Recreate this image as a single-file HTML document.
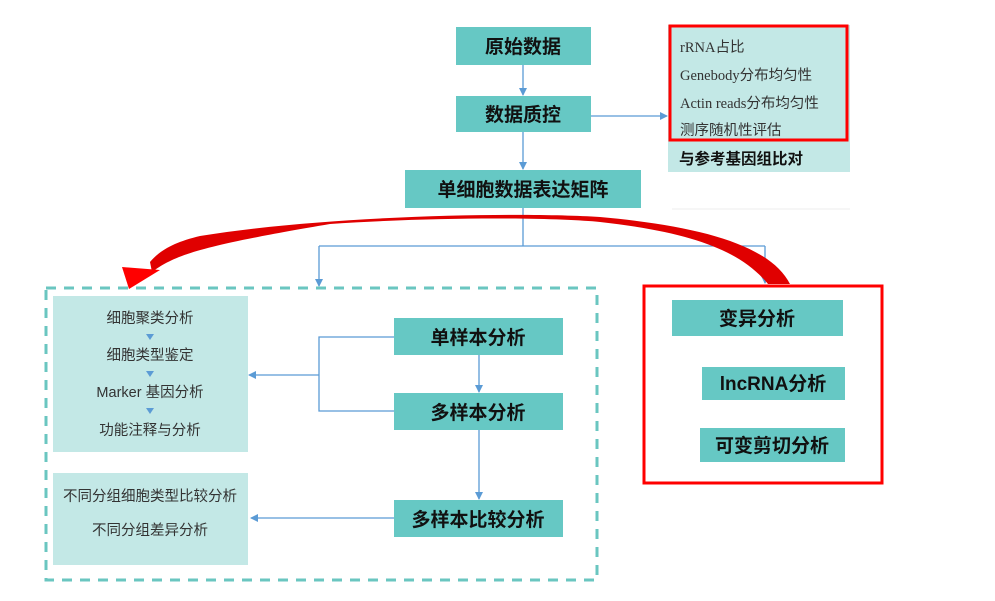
<!DOCTYPE html>
<html><head><meta charset="utf-8"><style>
body{margin:0;background:#fff;}
svg text{font-family:"Liberation Sans","Noto Sans CJK SC",sans-serif;}
</style></head><body>
<svg width="995" height="596" xmlns="http://www.w3.org/2000/svg">
<defs><marker id="a" markerWidth="8" markerHeight="8" refX="7" refY="4" orient="auto" markerUnits="userSpaceOnUse"><path d="M0,0 L8,4 L0,8 Z" fill="#5b9bd5"/></marker></defs>
<g stroke="#5b9bd5" stroke-width="1.3" fill="none">
<line x1="523" y1="65" x2="523" y2="95" marker-end="url(#a)"/>
<line x1="523" y1="132" x2="523" y2="169" marker-end="url(#a)"/>
<line x1="591" y1="116" x2="667" y2="116" marker-end="url(#a)"/>
<polyline points="523,208 523,246"/>
<polyline points="319,246 765,246"/>
<line x1="319" y1="246" x2="319" y2="286" marker-end="url(#a)"/>
<line x1="765" y1="246" x2="765" y2="283" marker-end="url(#a)"/>
<polyline points="394,337 319,337 319,411 394,411"/>
<line x1="319" y1="375" x2="249" y2="375" marker-end="url(#a)"/>
<line x1="479" y1="355" x2="479" y2="392" marker-end="url(#a)"/>
<line x1="479" y1="430" x2="479" y2="499" marker-end="url(#a)"/>
<line x1="394" y1="518" x2="251" y2="518" marker-end="url(#a)"/>
</g>
<g fill="#66c8c4">
<rect x="456" y="27" width="135" height="38"/>
<rect x="456" y="96" width="135" height="36"/>
<rect x="405" y="170" width="236" height="38"/>
<rect x="394" y="318" width="169" height="37"/>
<rect x="394" y="393" width="169" height="37"/>
<rect x="394" y="500" width="169" height="37"/>
<rect x="672" y="300" width="171" height="36"/>
<rect x="702" y="367" width="143" height="33"/>
<rect x="700" y="428" width="145" height="34"/>
</g>
<g fill="#c3e8e6">
<rect x="668" y="25" width="182" height="147"/>
<rect x="53" y="296" width="195" height="156"/>
<rect x="53" y="473" width="195" height="92"/>
</g>
<rect x="670" y="26" width="177" height="114" fill="none" stroke="#ff0000" stroke-width="3"/>
<line x1="672" y1="209" x2="850" y2="209" stroke="#eee"/>
<rect x="46" y="288" width="551" height="292" fill="none" stroke="#6ac6c0" stroke-width="3" stroke-dasharray="10,8"/>
<rect x="644" y="286" width="238" height="197" fill="none" stroke="#ff0000" stroke-width="3"/>
<path d="M790 284 C770 245,700 226,600 217 C520 212,330 215,200 236 C175 242,160 250,150 262 L152 272 C175 255,200 246,330 224 C450 216,560 218,600 222 C690 232,740 250,768 284 Z" fill="#e00000"/>
<polygon points="122,267 129,289 160,270" fill="#ff0000"/>
<g font-size="19" font-weight="bold" fill="#111" text-anchor="middle">
<text x="523" y="53">原始数据</text>
<text x="523" y="121">数据质控</text>
<text x="523" y="196">单细胞数据表达矩阵</text>
<text x="478" y="344">单样本分析</text>
<text x="478" y="419">多样本分析</text>
<text x="478" y="526">多样本比较分析</text>
<text x="757" y="325">变异分析</text>
<text x="773" y="390">lncRNA分析</text>
<text x="772" y="452">可变剪切分析</text>
</g>
<text x="679" y="164" font-size="15.5" font-weight="bold" fill="#111">与参考基因组比对</text>
<g font-size="14.5" fill="#333">
<text x="680" y="52" style="font-family:'Liberation Serif','Noto Sans CJK SC',serif">rRNA占比</text>
<text x="680" y="80" style="font-family:'Liberation Serif','Noto Sans CJK SC',serif">Genebody分布均匀性</text>
<text x="680" y="108" style="font-family:'Liberation Serif','Noto Sans CJK SC',serif">Actin reads分布均匀性</text>
<text x="680" y="135" style="font-family:'Liberation Serif','Noto Sans CJK SC',serif">测序随机性评估</text>
</g>
<g font-size="14.5" fill="#333" text-anchor="middle">
<text x="150" y="323">细胞聚类分析</text>
<text x="150" y="360">细胞类型鉴定</text>
<text x="150" y="397">Marker 基因分析</text>
<text x="150" y="435">功能注释与分析</text>
<text x="150" y="501">不同分组细胞类型比较分析</text>
<text x="150" y="535">不同分组差异分析</text>
</g>
<g fill="#5b9bd5">
<polygon points="146,334 154,334 150,340"/>
<polygon points="146,371 154,371 150,377"/>
<polygon points="146,408 154,408 150,414"/>
</g>
</svg>
</body></html>
